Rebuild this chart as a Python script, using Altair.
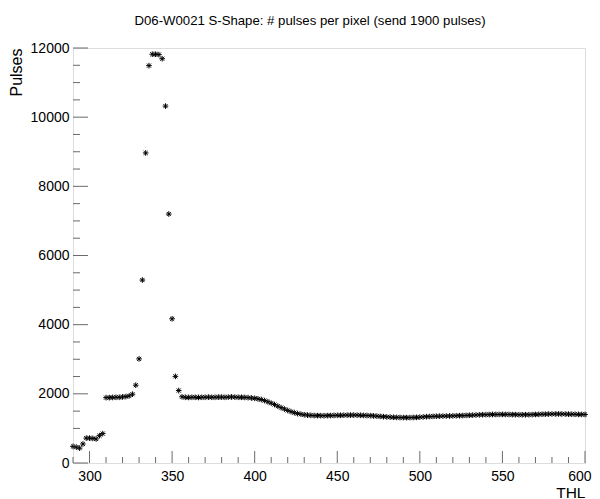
import altair as alt
import pandas as pd

# THL scan positions (bins every 2 THL units)
thl = list(range(290, 602, 2))

# Pulses per THL value
pulses = [
    480, 460, 430, 550, 720, 720, 710, 695, 790, 850,
    1890, 1890, 1895, 1900, 1900, 1910, 1920, 1940, 1990, 2250,
    3010, 5290, 8965, 11490, 11820, 11820, 11810, 11690, 10320, 7200,
    4170, 2505, 2095, 1915, 1900, 1895, 1900, 1900, 1895, 1900,
    1900, 1905, 1900, 1900, 1905, 1905, 1900, 1905, 1910, 1905,
    1900, 1900, 1895, 1890, 1880, 1870, 1855, 1835, 1805, 1770,
    1730, 1690, 1645, 1600, 1560, 1520, 1485, 1455, 1430, 1410,
    1395, 1385, 1378, 1372, 1370, 1368, 1368, 1370, 1372, 1375,
    1378, 1380, 1382, 1384, 1385, 1385, 1383, 1380, 1376, 1372,
    1368, 1362, 1355, 1348, 1340, 1333, 1327, 1322, 1318, 1315,
    1313, 1312, 1313, 1316, 1320, 1326, 1332, 1338, 1343, 1348,
    1352, 1355, 1357, 1358, 1360, 1362, 1365, 1368, 1372, 1376,
    1380, 1384, 1388, 1392, 1395, 1398, 1400, 1402, 1403, 1404,
    1405, 1404, 1403, 1400, 1398, 1396, 1395, 1395, 1397, 1400,
    1403, 1407, 1410, 1413, 1415, 1417, 1418, 1418, 1417, 1415,
    1413, 1410, 1408, 1406, 1404, 1403,
]

x_major = [300, 350, 400, 450, 500, 550, 600]
x_minor = [v for v in range(290, 601, 10) if v not in x_major]
y_major = [0, 2000, 4000, 6000, 8000, 10000, 12000]
y_minor = [v for v in range(0, 12001, 500) if v not in y_major]

TITLE = "D06-W0021 S-Shape: # pulses per pixel (send 1900 pulses)"
FONT = "Liberation Sans"
AXC = "#6a6a6a"
W, H = 512, 415

df = pd.DataFrame({"THL": thl, "Pulses": pulses})

xs = alt.Scale(domain=[290, 600], nice=False, zero=False)
ys = alt.Scale(domain=[0, 12000], nice=False)

star = "M-1,0L1,0M0,-1L0,1M-0.72,-0.72L0.72,0.72M-0.72,0.72L0.72,-0.72"

xaxis = alt.Axis(
    values=x_major, tickSize=0, domain=False, grid=False,
    labelFont=FONT, labelFontSize=14, labelColor="black", labelPadding=6,
    labelFlush=True, labelFlushOffset=6, labelOverlap=False,
    title="THL", titleFont=FONT, titleFontSize=15.5, titleFontWeight="normal",
    titleColor="black", titleAnchor="end", titleAlign="right",
    titleX=W, titleY=29, titleBaseline="middle")
yaxis = alt.Axis(
    values=y_major, tickSize=0, domain=False, grid=False,
    labelFont=FONT, labelFontSize=14, labelColor="black", labelPadding=4,
    labelFlush=False, labelOverlap=False, format="d",
    title="Pulses", titleFont=FONT, titleFontSize=16, titleFontWeight="normal",
    titleColor="black", titleAngle=270, titleAlign="right",
    titleX=-57, titleY=0, titleBaseline="middle")

points = alt.Chart(df).mark_point(
    shape=star, size=32, filled=False, stroke="black", strokeWidth=1, opacity=1
).encode(
    x=alt.X("THL:Q", scale=xs, axis=xaxis),
    y=alt.Y("Pulses:Q", scale=ys, axis=yaxis),
)

xmaj = alt.Chart(pd.DataFrame({"THL": x_major})).mark_rule(color=AXC, strokeWidth=1).encode(
    x=alt.X("THL:Q", scale=xs, axis=xaxis), y=alt.value(H), y2=alt.value(H - 12))
xmin = alt.Chart(pd.DataFrame({"THL": x_minor})).mark_rule(color=AXC, strokeWidth=1).encode(
    x=alt.X("THL:Q", scale=xs, axis=xaxis), y=alt.value(H), y2=alt.value(H - 6))
ymaj = alt.Chart(pd.DataFrame({"Pulses": y_major})).mark_rule(color=AXC, strokeWidth=1).encode(
    y=alt.Y("Pulses:Q", scale=ys, axis=yaxis), x=alt.value(0), x2=alt.value(15))
ymin = alt.Chart(pd.DataFrame({"Pulses": y_minor})).mark_rule(color=AXC, strokeWidth=1).encode(
    y=alt.Y("Pulses:Q", scale=ys, axis=yaxis), x=alt.value(0), x2=alt.value(7))

chart = alt.layer(points, xmin, xmaj, ymin, ymaj).properties(
    width=W, height=H,
    autosize="none",
    padding={"left": 65, "top": 40, "right": 7, "bottom": 36},
    title=alt.TitleParams(TITLE, font=FONT, fontSize=13.2, fontWeight="normal",
                          color="black", anchor="middle", dx=-19, offset=13),
).configure_view(stroke=AXC, strokeWidth=1).configure(background="white")

chart.save("out.html", embed_options={"renderer": "svg", "actions": False})
